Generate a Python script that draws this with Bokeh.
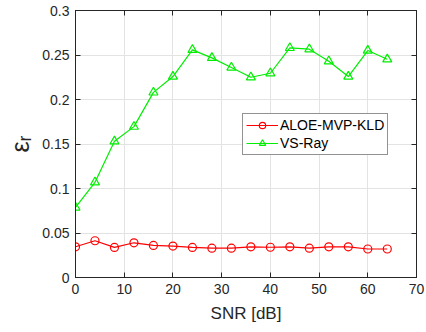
from bokeh.plotting import figure
from bokeh.models import LinearAxis, Range1d, FixedTicker, Legend, LegendItem
from bokeh.embed import file_html
from bokeh.resources import INLINE

snr = [0, 4, 8, 12, 16, 20, 24, 28, 32, 36, 40, 44, 48, 52, 56, 60, 64]
aloe = [0.0345, 0.0413, 0.0338, 0.039, 0.036, 0.0353, 0.0338, 0.033, 0.033,
        0.0345, 0.034, 0.0345, 0.033, 0.0345, 0.0345, 0.032, 0.032]
vsray = [0.0787, 0.107, 0.153, 0.1695, 0.208, 0.2258, 0.2558, 0.2468, 0.236,
         0.225, 0.2295, 0.258, 0.2565, 0.243, 0.2258, 0.255, 0.2452]
xticks = [0, 10, 20, 30, 40, 50, 60, 70]
yticks = [0, 0.05, 0.1, 0.15, 0.2, 0.25, 0.3]
ytick_labels = ["0", "0.05", "0.1", "0.15", "0.2", "0.25", "0.3"]

FONT = "Liberation Sans"
AX = "#262626"

p = figure(width=426, height=332, output_backend="svg", toolbar_location=None,
           x_range=Range1d(0, 70), y_range=Range1d(0, 0.3),
           min_border_left=75, min_border_right=10, min_border_top=10,
           min_border_bottom=55)
p.outline_line_color = AX
p.outline_line_width = 1
p.background_fill_color = "white"
p.border_fill_color = "white"

for ax in (p.xaxis[0], p.yaxis[0]):
    ax.major_tick_in = 5
    ax.major_tick_out = 0
    ax.minor_tick_in = 0
    ax.minor_tick_out = 0
    ax.axis_line_color = AX
    ax.major_tick_line_color = AX
    ax.major_label_text_font = FONT
    ax.major_label_text_font_size = "14px"
    ax.major_label_text_color = AX
    ax.axis_label_text_font = FONT
    ax.axis_label_text_color = AX
    ax.axis_label_text_font_style = "normal"

p.xaxis[0].ticker = FixedTicker(ticks=xticks)
p.yaxis[0].ticker = FixedTicker(ticks=yticks)
p.yaxis[0].major_label_overrides = {t: l for t, l in zip(yticks, ytick_labels)}
p.xaxis[0].axis_label = "SNR [dB]"
p.xaxis[0].axis_label_text_font_size = "17px"
p.xaxis[0].axis_label_standoff = 7
p.xaxis[0].major_label_standoff = 6
p.yaxis[0].axis_label = "εᵣ"
p.yaxis[0].axis_label_text_font_size = "25px"
p.yaxis[0].axis_label_standoff = 5
p.yaxis[0].major_label_standoff = 6

top = LinearAxis(ticker=FixedTicker(ticks=xticks), major_tick_in=5, major_tick_out=0,
                 minor_tick_in=0, minor_tick_out=0,
                 major_label_overrides={t: "" for t in xticks},
                 axis_line_color=AX, major_tick_line_color=AX)
right = LinearAxis(ticker=FixedTicker(ticks=yticks), major_tick_in=5, major_tick_out=0,
                   minor_tick_in=0, minor_tick_out=0,
                   major_label_overrides={t: "" for t in yticks},
                   axis_line_color=AX, major_tick_line_color=AX)
p.add_layout(top, "above")
p.add_layout(right, "right")

p.xgrid.ticker = FixedTicker(ticks=xticks)
p.ygrid.ticker = FixedTicker(ticks=yticks)
p.xgrid.grid_line_color = "#e3e3e3"
p.ygrid.grid_line_color = "#e3e3e3"

RED = "#ff0000"
GREEN = "#00ee00"
r1 = p.line(snr, aloe, line_color=RED, line_width=1.2)
r1m = p.scatter(snr, aloe, marker="circle", size=8, fill_color=None,
                line_color=RED, line_width=1.2)
r2 = p.line(snr, vsray, line_color=GREEN, line_width=1.2)
r2m = p.scatter(snr, vsray, marker="triangle", size=9, fill_color=None,
                line_color=GREEN, line_width=1.2)

legend = Legend(items=[LegendItem(label="ALOE-MVP-KLD", renderers=[r1, r1m]),
                       LegendItem(label="VS-Ray", renderers=[r2, r2m])],
                location=(167, 122))
legend.border_line_color = AX
legend.border_line_width = 1
legend.label_text_font = FONT
legend.label_text_font_size = "14px"
legend.label_text_color = "#000000"
legend.glyph_width = 32
legend.glyph_height = 16
legend.label_height = 16
legend.spacing = 2
legend.padding = 3
legend.margin = 0
legend.label_standoff = 2
legend.background_fill_alpha = 1
p.add_layout(legend, "center")

open("out.html", "w").write(file_html(p, INLINE))
